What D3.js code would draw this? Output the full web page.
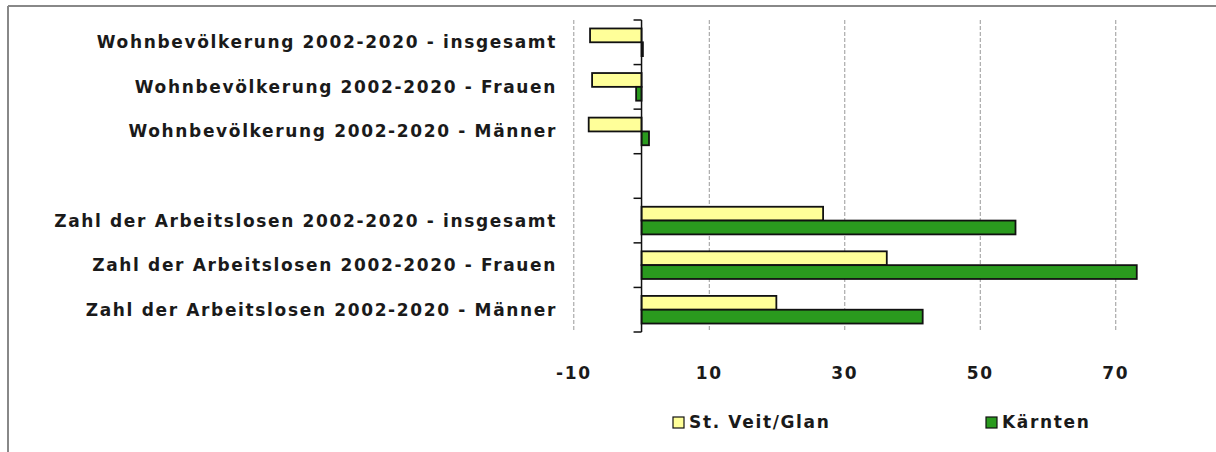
<!DOCTYPE html>
<html>
<head>
<meta charset="utf-8">
<script src="https://cdn.jsdelivr.net/npm/d3@7"></script>
<style>
  body { margin: 0; background: #fff; }
  #vis1 { width: 1216px; height: 452px; }
  text { font-family: "DejaVu Sans", Verdana, sans-serif; font-weight: bold; fill: #1a1a1a;
         font-size: 17px; letter-spacing: 1.65px; }
</style>
</head>
<body>
<div id="vis1"></div>
<script>
/*
Data
*/

const categories = [
    "Wohnbevölkerung 2002-2020 - insgesamt",
    "Wohnbevölkerung 2002-2020 - Frauen",
    "Wohnbevölkerung 2002-2020 - Männer",
    "",
    "Zahl der Arbeitslosen 2002-2020 - insgesamt",
    "Zahl der Arbeitslosen 2002-2020 - Frauen",
    "Zahl der Arbeitslosen 2002-2020 - Männer"
];
const stVeit = [-7.6, -7.3, -7.8, null, 26.8, 36.2, 19.9];
const kaernten = [0.2, -0.8, 1.1, null, 55.2, 73.1, 41.5];
const seriesNames = ["St. Veit/Glan", "Kärnten"];
const seriesColors = ["#ffff99", "#2a9a1e"];
const xTicks = [-10, 10, 30, 50, 70];

/*
Size constants
*/

const WIDTH = 1216;
const HEIGHT = 452;
const plot = {left: 573.8, right: 1183.5, top: 20, bottom: 332};

const svg = d3.select("#vis1")
                .append("svg")
                .attr("width", WIDTH)
                .attr("height", HEIGHT);

// frame (only top and left edge visible)
svg.append("line").attr("x1", 8).attr("x2", WIDTH).attr("y1", 6).attr("y2", 6)
    .attr("stroke", "#888").attr("stroke-width", 2);
svg.append("line").attr("x1", 8).attr("x2", 8).attr("y1", 6).attr("y2", HEIGHT)
    .attr("stroke", "#888").attr("stroke-width", 2);

/*
Scales
*/

const x = d3.scaleLinear()
            .domain([-10, 80])
            .range([plot.left, plot.right]);

const y = d3.scaleBand()
            .domain(d3.range(categories.length))
            .range([plot.top, plot.bottom])
            .paddingInner(0.38)
            .paddingOuter(0.19);

const step = y.step();
const barH = y.bandwidth() / 2;

// gridlines
svg.append("g")
    .selectAll("line")
    .data(xTicks)
    .enter()
    .append("line")
    .attr("x1", d => x(d)).attr("x2", d => x(d))
    .attr("y1", plot.top).attr("y2", plot.bottom)
    .attr("stroke", "#999")
    .attr("stroke-width", 1)
    .attr("stroke-dasharray", "4,2");

// x tick labels
svg.append("g")
    .selectAll("text")
    .data(xTicks)
    .enter()
    .append("text")
    .attr("x", d => x(d))
    .attr("y", 379)
    .attr("text-anchor", "middle")
    .text(d => d);

// bars
const rows = categories.map((c, i) => ({i, a: stVeit[i], b: kaernten[i]}))
                       .filter(d => d.a !== null);

const bars = svg.append("g");
bars.selectAll("rect.a")
    .data(rows)
    .enter()
    .append("rect")
    .attr("x", d => x(Math.min(0, d.a)))
    .attr("y", d => y(d.i))
    .attr("width", d => Math.abs(x(d.a) - x(0)))
    .attr("height", barH)
    .attr("fill", seriesColors[0])
    .attr("stroke", "#111")
    .attr("stroke-width", 1.8);

bars.selectAll("rect.b")
    .data(rows)
    .enter()
    .append("rect")
    .attr("x", d => x(Math.min(0, d.b)))
    .attr("y", d => y(d.i) + barH)
    .attr("width", d => Math.abs(x(d.b) - x(0)))
    .attr("height", barH)
    .attr("fill", seriesColors[1])
    .attr("stroke", "#111")
    .attr("stroke-width", 1.8);

// category axis
const x0 = x(0);
svg.append("line")
    .attr("x1", x0).attr("x2", x0)
    .attr("y1", plot.top).attr("y2", plot.bottom)
    .attr("stroke", "#111").attr("stroke-width", 1.5);

const tickYs = d3.range(categories.length + 1).map(k => plot.top + k * step);
svg.append("g")
    .selectAll("line")
    .data(tickYs)
    .enter()
    .append("line")
    .attr("x1", x0 - 8).attr("x2", x0)
    .attr("y1", d => d).attr("y2", d => d)
    .attr("stroke", "#111").attr("stroke-width", 1.5);

svg.append("g")
    .selectAll("text")
    .data(categories)
    .enter()
    .append("text")
    .attr("x", 557)
    .attr("y", (d, i) => plot.top + (i + 0.5) * step + 6)
    .attr("text-anchor", "end")
    .text(d => d);

// legend
const legendX = [673, 986];
const legend = svg.append("g")
    .selectAll("g")
    .data(seriesNames)
    .enter()
    .append("g")
    .attr("transform", (d, i) => `translate(${legendX[i]}, 417)`);

legend.append("rect")
    .attr("width", 11).attr("height", 11)
    .attr("fill", (d, i) => seriesColors[i])
    .attr("stroke", "#111").attr("stroke-width", 1.2);

legend.append("text")
    .attr("x", 16)
    .attr("y", 11)
    .text(d => d);
</script>
</body>
</html>
